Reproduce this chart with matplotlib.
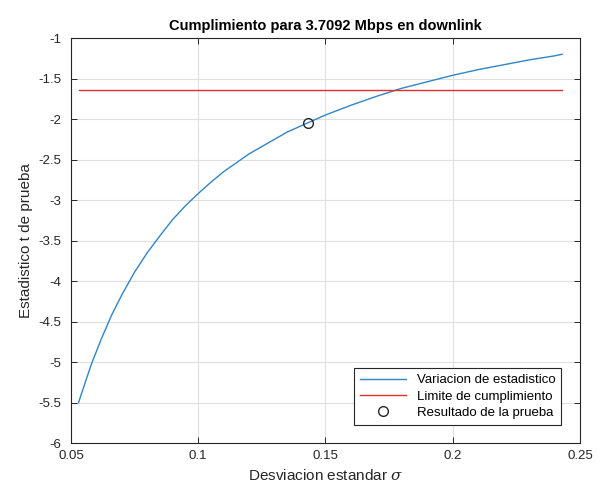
import matplotlib
matplotlib.use("Agg")
import matplotlib.pyplot as plt

plt.rcParams['font.family'] = ['Liberation Sans', 'DejaVu Sans']
plt.rcParams['mathtext.fontset'] = 'dejavuserif'

# valores
sigma = [0.053, 0.055, 0.058, 0.062, 0.066, 0.07, 0.075, 0.08, 0.085, 0.09,
         0.095, 0.10, 0.105, 0.11, 0.115, 0.12, 0.125, 0.13, 0.135, 0.14,
         0.15, 0.16, 0.17, 0.18, 0.19, 0.20, 0.21, 0.22, 0.23, 0.24, 0.243]
t_stat = [-5.50, -5.31, -5.03, -4.71, -4.42, -4.17, -3.89, -3.65, -3.44, -3.24,
          -3.07, -2.92, -2.78, -2.65, -2.54, -2.43, -2.34, -2.25, -2.16, -2.09,
          -1.95, -1.83, -1.72, -1.62, -1.54, -1.46, -1.39, -1.33, -1.27, -1.22,
          -1.20]
limite_x = [0.053, 0.243]
limite_y = [-1.645, -1.645]
resultado_x = [0.143]
resultado_y = [-2.05]

fig = plt.figure(figsize=(6.06, 4.94), dpi=100)
ax = fig.add_axes([0.117, 0.103, 0.840, 0.820])

ax.plot(sigma, t_stat, color='#2F86C4', lw=1.0, label='Variacion de estadistico')
ax.plot(limite_x, limite_y, color='#E0302C', lw=1.0, label='Limite de cumplimiento')
ax.plot(resultado_x, resultado_y, 'o', ms=7, mfc='none', mec='#262626', mew=1.0,
        label='Resultado de la prueba')

ax.set_xlim(0.05, 0.25)
ax.set_ylim(-6, -1)
ax.set_xticks([0.05, 0.1, 0.15, 0.2, 0.25])
ax.set_xticklabels(['0.05', '0.1', '0.15', '0.2', '0.25'])
ax.set_yticks([-6, -5.5, -5, -4.5, -4, -3.5, -3, -2.5, -2, -1.5, -1])
ax.set_yticklabels(['-6', '-5.5', '-5', '-4.5', '-4', '-3.5', '-3', '-2.5', '-2', '-1.5', '-1'])

ax.grid(True, color='#DFDFDF', lw=0.8)
ax.set_axisbelow(True)
ax.tick_params(direction='in', top=True, right=True, length=4, width=0.7,
               labelsize=9.5, colors='#262626')
ax.tick_params(axis='y', pad=7)
ax.tick_params(axis='x', pad=5)
for s in ax.spines.values():
    s.set_color('#262626')
    s.set_linewidth(0.8)

ax.set_title('Cumplimiento para 3.7092 Mbps en downlink', fontsize=10.5,
             fontweight='bold', pad=6)
ax.set_xlabel(r'Desviacion estandar $\sigma$', fontsize=11, color='#262626')
ax.set_ylabel('Estadistico t de prueba', fontsize=11, color='#262626')

leg = ax.legend(loc='lower right', fontsize=9.5, frameon=True, fancybox=False,
                edgecolor='#262626', framealpha=1, borderaxespad=1.4,
                handlelength=3.5, labelspacing=0.3, borderpad=0.45)
leg.get_frame().set_linewidth(0.8)

fig.savefig('out.png', dpi=100)
